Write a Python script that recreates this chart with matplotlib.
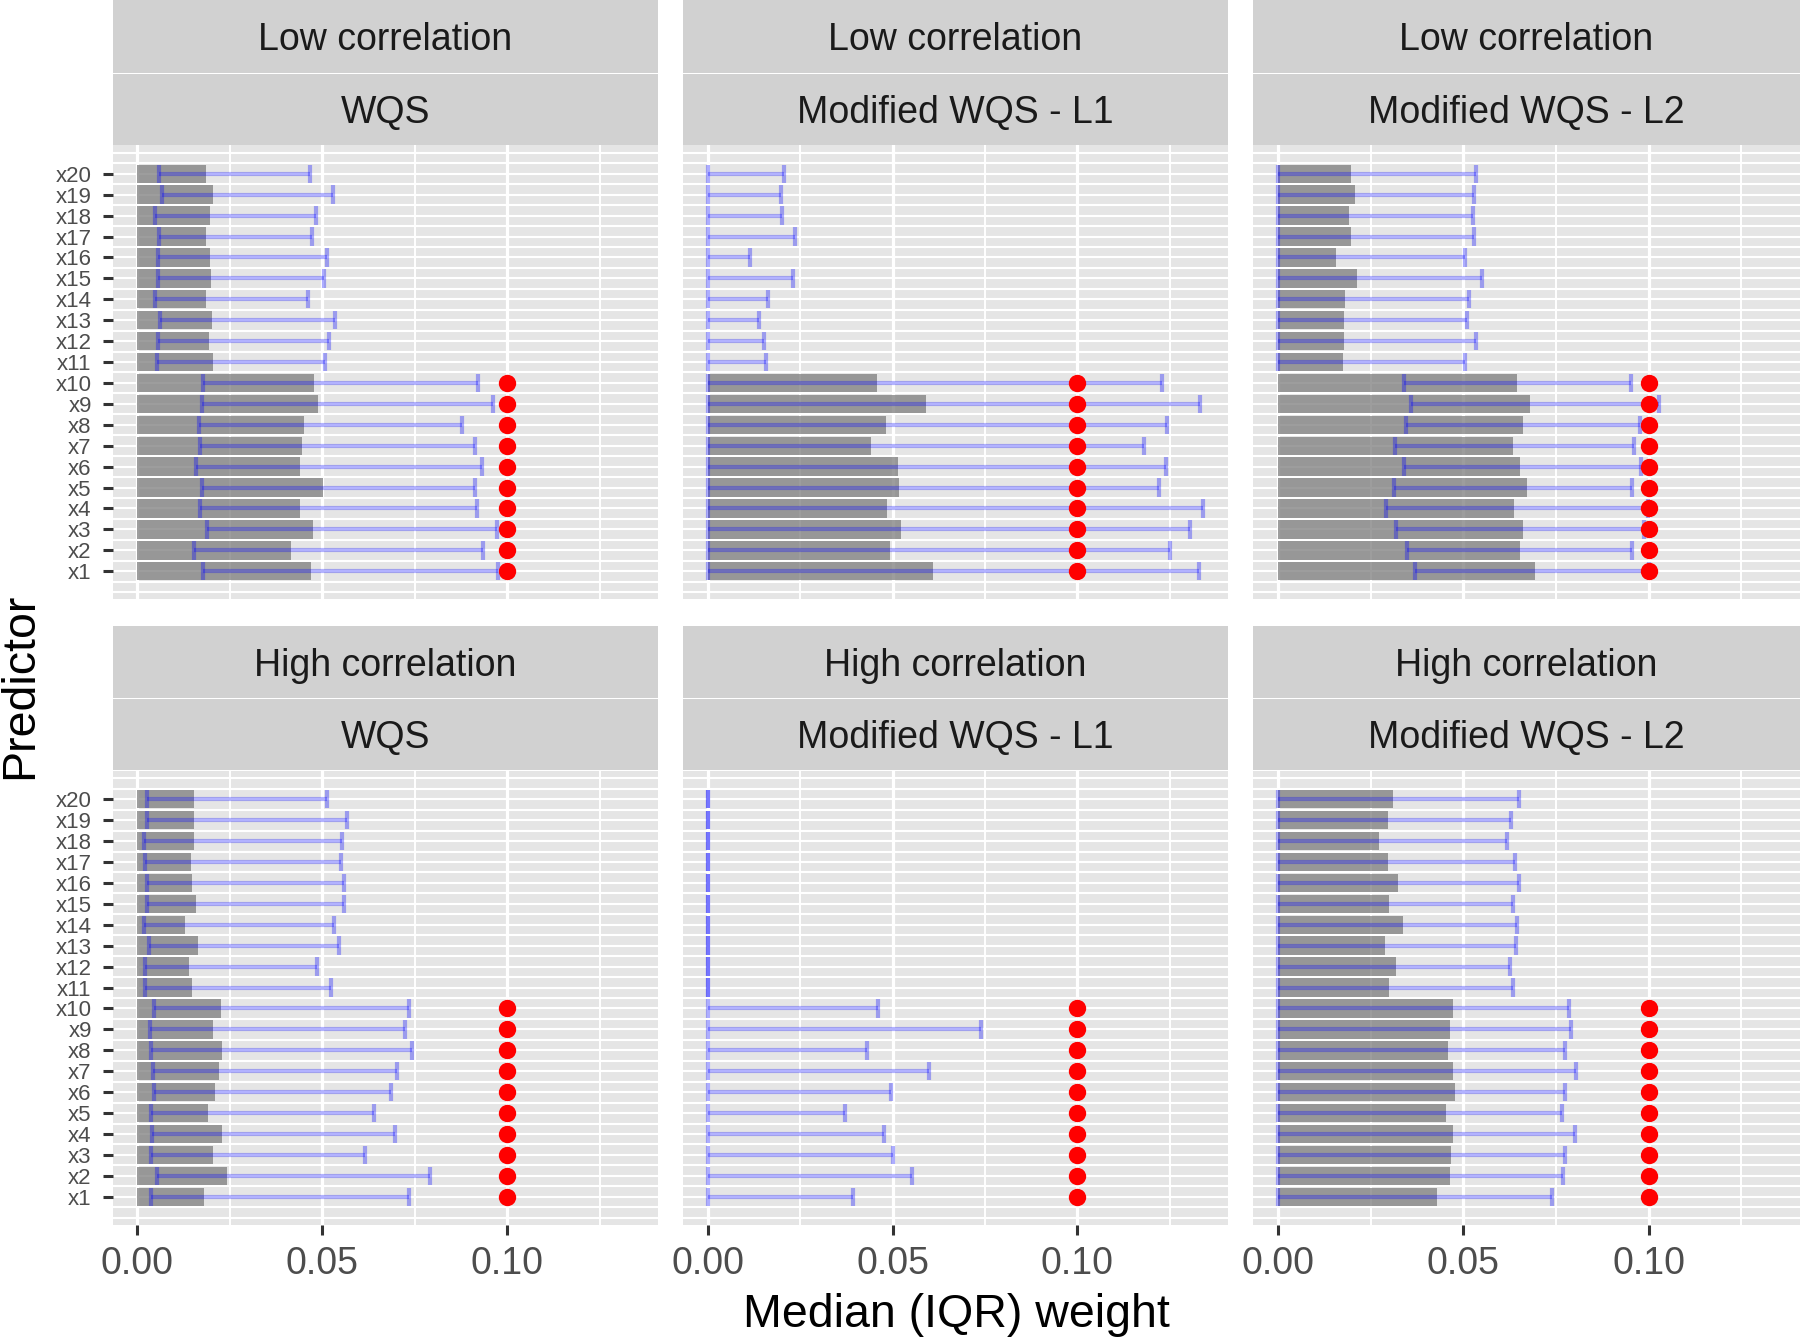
import matplotlib
matplotlib.use("Agg")
import matplotlib.pyplot as plt
import numpy as np

plt.rcParams["font.family"] = ["Liberation Sans", "DejaVu Sans"]

# predictors x1..x20
predictors = [f"x{i}" for i in range(1, 21)]
true_weight = [0.1] * 10 + [0.0] * 10

row_labels = ["Low correlation", "High correlation"]
col_labels = ["WQS", "Modified WQS - L1", "Modified WQS - L2"]

# low correlation
low_wqs_med = [0.0469, 0.0417, 0.0474, 0.0439, 0.0502, 0.0441, 0.0445, 0.0452, 0.0489, 0.0478,
               0.0205, 0.0194, 0.0202, 0.0186, 0.0199, 0.0197, 0.0186, 0.0197, 0.0205, 0.0186]
low_wqs_q1 = [0.0178, 0.0154, 0.0188, 0.0169, 0.0174, 0.0159, 0.0169, 0.0166, 0.0176, 0.0177,
              0.0054, 0.0056, 0.0062, 0.0048, 0.0056, 0.0056, 0.0059, 0.0047, 0.0066, 0.0059]
low_wqs_q3 = [0.0976, 0.0936, 0.0974, 0.0918, 0.0914, 0.0933, 0.0912, 0.0878, 0.0962, 0.0921,
              0.0507, 0.0518, 0.0535, 0.0461, 0.0504, 0.0512, 0.0473, 0.0484, 0.0529, 0.0466]

low_l1_med = [0.0609, 0.0493, 0.0524, 0.0486, 0.0518, 0.0515, 0.0442, 0.0483, 0.0591, 0.0459,
              0, 0, 0, 0, 0, 0, 0, 0, 0, 0]
low_l1_q1 = [0.0] * 20
low_l1_q3 = [0.1330, 0.1251, 0.1305, 0.1341, 0.1220, 0.1240, 0.1181, 0.1244, 0.1333, 0.1230,
             0.0157, 0.0153, 0.0139, 0.0162, 0.0230, 0.0115, 0.0237, 0.0201, 0.0199, 0.0206]

low_l2_med = [0.0693, 0.0654, 0.0661, 0.0638, 0.0671, 0.0654, 0.0635, 0.0661, 0.0679, 0.0645,
              0.0175, 0.0179, 0.0179, 0.0182, 0.0213, 0.0157, 0.0196, 0.0191, 0.0207, 0.0196]
low_l2_q1 = [0.0371, 0.0349, 0.0318, 0.0291, 0.0313, 0.0340, 0.0315, 0.0346, 0.0360, 0.0341,
             0, 0, 0, 0, 0, 0, 0, 0, 0, 0]
low_l2_q3 = [0.1000, 0.0955, 0.0987, 0.0998, 0.0955, 0.0979, 0.0960, 0.0977, 0.1027, 0.0953,
             0.0504, 0.0533, 0.0509, 0.0515, 0.0550, 0.0506, 0.0530, 0.0527, 0.0528, 0.0535]

# high correlation
high_wqs_med = [0.0180, 0.0243, 0.0206, 0.0229, 0.0192, 0.0211, 0.0222, 0.0229, 0.0206, 0.0227,
                0.0149, 0.0139, 0.0164, 0.0130, 0.0159, 0.0149, 0.0144, 0.0153, 0.0153, 0.0153]
high_wqs_q1 = [0.0038, 0.0052, 0.0036, 0.0041, 0.0037, 0.0046, 0.0043, 0.0038, 0.0034, 0.0045,
               0.0022, 0.0021, 0.0033, 0.0017, 0.0027, 0.0025, 0.0022, 0.0017, 0.0027, 0.0025]
high_wqs_q3 = [0.0736, 0.0792, 0.0617, 0.0696, 0.0639, 0.0687, 0.0703, 0.0742, 0.0723, 0.0734,
               0.0525, 0.0487, 0.0546, 0.0531, 0.0559, 0.0560, 0.0551, 0.0553, 0.0566, 0.0512]

high_l1_med = [0.0] * 20
high_l1_q1 = [0.0] * 20
high_l1_q3 = [0.0394, 0.0553, 0.0501, 0.0476, 0.0371, 0.0496, 0.0600, 0.0430, 0.0739, 0.0462,
              0, 0, 0, 0, 0, 0, 0, 0, 0, 0]

high_l2_med = [0.0428, 0.0463, 0.0468, 0.0471, 0.0454, 0.0477, 0.0471, 0.0460, 0.0465, 0.0471,
               0.0299, 0.0318, 0.0288, 0.0338, 0.0299, 0.0324, 0.0296, 0.0274, 0.0296, 0.0310]
high_l2_q1 = [0.0] * 20
high_l2_q3 = [0.0739, 0.0770, 0.0773, 0.0802, 0.0766, 0.0773, 0.0805, 0.0773, 0.0791, 0.0786,
              0.0633, 0.0627, 0.0641, 0.0645, 0.0634, 0.0651, 0.0640, 0.0619, 0.0629, 0.0650]

panels = [
    [(low_wqs_med, low_wqs_q1, low_wqs_q3),
     (low_l1_med, low_l1_q1, low_l1_q3),
     (low_l2_med, low_l2_q1, low_l2_q3)],
    [(high_wqs_med, high_wqs_q1, high_wqs_q3),
     (high_l1_med, high_l1_q1, high_l1_q3),
     (high_l2_med, high_l2_q1, high_l2_q3)],
]

W, H = 1800, 1339
fig = plt.figure(figsize=(W / 100, H / 100), dpi=100)


def rect(x0, x1, y0, y1):
    # pixel box -> figure fraction
    return [x0 / W, 1 - y1 / H, (x1 - x0) / W, (y1 - y0) / H]


cols_px = [(112.5, 658), (683, 1228), (1253, 1800)]
rows_px = [  # strip1, strip2, panel
    ((0, 72.5), (73.5, 145), (145.5, 599.5)),
    ((625.5, 697.5), (698.5, 770), (771, 1225)),
]

ypos = np.arange(1, 21)
tw = np.array(true_weight)
tick_col = "#333333"

for r in range(2):
    (s1, s2, p) = rows_px[r]
    for c in range(3):
        x0, x1 = cols_px[c]
        for (ya, yb), txt in [(s1, row_labels[r]), (s2, col_labels[c])]:
            sax = fig.add_axes(rect(x0, x1, ya, yb))
            sax.set_facecolor("#D1D1D1")
            sax.set_xticks([])
            sax.set_yticks([])
            for sp in sax.spines.values():
                sp.set_visible(False)
            sax.text(0.5, 0.5, txt, ha="center", va="center_baseline", fontsize=27,
                     color="#1A1A1A", transform=sax.transAxes)

        ax = fig.add_axes(rect(x0, x1, p[0], p[1]))
        ax.set_facecolor("#E5E5E5")
        for sp in ax.spines.values():
            sp.set_visible(False)

        # grid
        for yy in np.arange(0, 21.01, 0.5):
            ax.axhline(yy, color="white", lw=1.5, zorder=1)
        for xx in [0.025, 0.075, 0.125]:
            ax.axvline(xx, color="white", lw=1.4, zorder=1)
        for xx in [0.0, 0.05, 0.10]:
            ax.axvline(xx, color="white", lw=2.3, zorder=1)

        med, q1, q3 = (np.array(a) for a in panels[r][c])
        ax.barh(ypos, med, height=0.88, color="#7F7F7F", alpha=0.76, zorder=2)
        ax.hlines(ypos, q1, q3, color="blue", alpha=0.3, lw=3, zorder=3)
        ax.vlines(q1, ypos - 0.44, ypos + 0.44, color="blue", alpha=0.32, lw=3, zorder=3)
        ax.vlines(q3, ypos - 0.44, ypos + 0.44, color="blue", alpha=0.32, lw=3, zorder=3)
        m = tw > 0
        ax.plot(tw[m], ypos[m], "o", color="red", ms=12.5, mec="none", zorder=4)

        ax.set_xlim(-0.0067, 0.1408)
        ax.set_ylim(-0.35, 21.35)

        if c == 0:
            ax.set_yticks(ypos)
            ax.set_yticklabels(predictors)
            ax.tick_params(axis="y", length=7, width=2.2, color=tick_col,
                           labelsize=16, labelcolor="#4D4D4D", pad=8)
        else:
            ax.set_yticks([])
        if r == 1:
            ax.set_xticks([0.0, 0.05, 0.10])
            ax.set_xticklabels(["0.00", "0.05", "0.10"])
            ax.tick_params(axis="x", length=7, width=2.2, color=tick_col,
                           labelsize=27, labelcolor="#4D4D4D", pad=8)
        else:
            ax.set_xticks([])

fig.text(956 / W, 1 - 1315 / H, "Median (IQR) weight", ha="center", va="center",
         fontsize=33.5, color="black")
fig.text(20 / W, 1 - 685.5 / H, "Predictor", ha="center", va="center",
         rotation=90, fontsize=33.5, color="black")

fig.savefig("out.png", dpi=100)
